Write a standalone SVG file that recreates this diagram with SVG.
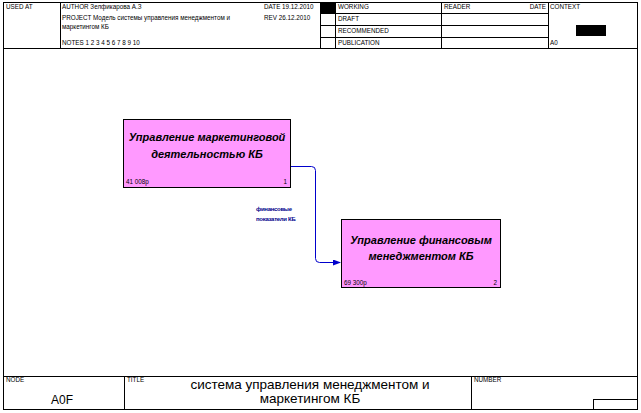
<svg xmlns="http://www.w3.org/2000/svg" width="641" height="413" viewBox="0 0 641 413">
<style>
.ln{stroke:#000;stroke-width:1;fill:none}
.t{font-family:"Liberation Sans",Arial,sans-serif;font-size:6.3px;fill:#000}
.box{fill:#ff99ff;stroke:#000;stroke-width:1}
.bt{font-family:"Liberation Sans",Arial,sans-serif;font-size:11px;font-weight:bold;font-style:italic;fill:#000;text-anchor:middle}
.sm{font-family:"Liberation Sans",Arial,sans-serif;font-size:6.3px;fill:#000}
.lbl{font-family:"Liberation Sans",Arial,sans-serif;font-size:6px;font-weight:bold;fill:#00008b;letter-spacing:-0.3px}
</style>
<defs>
<marker id="ah" markerWidth="8" markerHeight="6" refX="7" refY="3" orient="auto" markerUnits="userSpaceOnUse">
<path d="M0,0 L8,3 L0,6 Z" fill="#0000cc"/>
</marker>
</defs>
<rect width="641" height="413" fill="#fff"/>
<g id="frame">
<rect class="ln" x="3.5" y="2.5" width="634" height="407"/>
<line class="ln" x1="3.5" y1="48.5" x2="637.5" y2="48.5"/>
<line class="ln" x1="60.5" y1="2.5" x2="60.5" y2="48.5"/>
<line class="ln" x1="320.5" y1="2.5" x2="320.5" y2="48.5"/>
<line class="ln" x1="335.5" y1="2.5" x2="335.5" y2="48.5"/>
<line class="ln" x1="441.5" y1="2.5" x2="441.5" y2="48.5"/>
<line class="ln" x1="548.5" y1="2.5" x2="548.5" y2="48.5"/>
<line class="ln" x1="320.5" y1="13.5" x2="548.5" y2="13.5"/>
<line class="ln" x1="320.5" y1="25.5" x2="548.5" y2="25.5"/>
<line class="ln" x1="320.5" y1="37.5" x2="548.5" y2="37.5"/>
<rect x="321" y="3" width="14" height="10" fill="#000"/>
<rect x="576" y="25" width="30" height="11" fill="#000"/>
<text class="t" x="6" y="9">USED AT</text>
<text class="t" x="62" y="9">AUTHOR  Зелфикарова А.З</text>
<text class="t" x="264" y="9">DATE  19.12.2010</text>
<text class="t" x="264" y="20">REV   26.12.2010</text>
<text class="t" x="62" y="20">PROJECT  Модель системы управления  менеджментом и</text>
<text class="t" x="62" y="29">маркетингом КБ</text>
<text class="t" x="62" y="45">NOTES  1  2  3  4 5  6  7  8  9  10</text>
<text class="t" x="338" y="9">WORKING</text>
<text class="t" x="338" y="21">DRAFT</text>
<text class="t" x="338" y="33">RECOMMENDED</text>
<text class="t" x="338" y="45">PUBLICATION</text>
<text class="t" x="444" y="9">READER</text>
<text class="t" x="546" y="9" text-anchor="end">DATE</text>
<text class="t" x="550" y="9">CONTEXT</text>
<text class="t" x="550" y="45">A0</text>
<line class="ln" x1="3.5" y1="376.5" x2="637.5" y2="376.5"/>
<line class="ln" x1="124.5" y1="376.5" x2="124.5" y2="409.5"/>
<line class="ln" x1="471.5" y1="376.5" x2="471.5" y2="409.5"/>
<rect class="ln" x="593.5" y="399.5" width="44" height="10"/>
<text class="t" x="6" y="382">NODE</text>
<text class="t" x="127" y="382">TITLE</text>
<text class="t" x="474" y="382">NUMBER</text>
<text x="62" y="404" text-anchor="middle" style="font-family:'Liberation Sans',Arial,sans-serif;font-size:12px">A0F</text>
<text x="310" y="389" text-anchor="middle" style="font-family:'Liberation Sans',Arial,sans-serif;font-size:13.5px">система управления менеджментом и</text>
<text x="310" y="403" text-anchor="middle" style="font-family:'Liberation Sans',Arial,sans-serif;font-size:13.5px">маркетингом КБ</text>
</g>
<g id="connectors">
<path d="M290.5,166.5 H311.5 Q315.5,166.5 315.5,170.5 V258.5 Q315.5,262.5 319.5,262.5 H340" fill="none" stroke="#0000cc" stroke-width="1" marker-end="url(#ah)"/>
<text class="lbl" x="256" y="211">финансовые</text>
<text class="lbl" x="256" y="221">показатели КБ</text>
</g>
<g id="node1">
<rect class="box" x="123.5" y="119.5" width="167" height="68"/>
<text class="bt" x="207" y="141">Управление маркетинговой</text>
<text class="bt" x="207" y="158">деятельностью КБ</text>
<text class="sm" x="126" y="184">41 008р</text>
<text class="sm" x="287" y="184" text-anchor="end">1</text>
</g>
<g id="node2">
<rect class="box" x="341.5" y="219.5" width="159" height="68"/>
<text class="bt" x="421" y="244">Управление финансовым</text>
<text class="bt" x="421" y="260">менеджментом КБ</text>
<text class="sm" x="344" y="285">69 300р</text>
<text class="sm" x="497" y="285" text-anchor="end">2</text>
</g>
</svg>
